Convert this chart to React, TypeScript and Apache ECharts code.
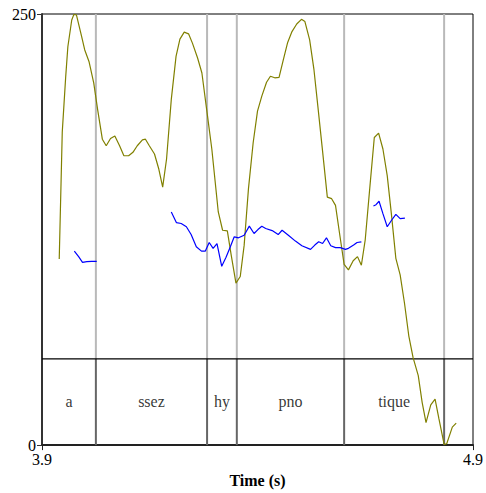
import React, { useEffect, useRef } from "react";
import * as echarts from "echarts";

// Intensity-like contour (olive)
const olive: [number, number][] = [
  [3.940, 107.9], [3.947, 181.5], [3.955, 213.7], [3.960, 231.0], [3.969, 246.5],
  [3.974, 249.8], [3.980, 249.4], [3.992, 236.9], [3.999, 229.3], [4.009, 222.5],
  [4.020, 210.1], [4.029, 194.7], [4.040, 177.4], [4.049, 173.6], [4.059, 177.8],
  [4.069, 179.3], [4.080, 173.6], [4.090, 167.8], [4.101, 167.8], [4.111, 169.8],
  [4.121, 173.6], [4.133, 177.0], [4.140, 177.4], [4.149, 173.6], [4.161, 168.8],
  [4.171, 160.1], [4.180, 149.6], [4.189, 165.9], [4.200, 200.5], [4.211, 225.4],
  [4.220, 235.4], [4.230, 239.5], [4.240, 238.5], [4.249, 233.1], [4.261, 224.5],
  [4.271, 215.8], [4.282, 194.7], [4.294, 171.7], [4.309, 135.2], [4.319, 124.6],
  [4.330, 124.2], [4.339, 110.2], [4.350, 93.9], [4.360, 97.8], [4.369, 115.8],
  [4.379, 148.6], [4.390, 175.5], [4.400, 193.7], [4.410, 202.4], [4.421, 210.4],
  [4.430, 213.9], [4.440, 213.0], [4.450, 213.3], [4.460, 223.5], [4.470, 233.5],
  [4.480, 239.8], [4.491, 244.2], [4.502, 246.9], [4.510, 245.6], [4.521, 235.0],
  [4.531, 217.7], [4.540, 196.6], [4.550, 172.8], [4.562, 143.8], [4.572, 142.9],
  [4.581, 139.0], [4.591, 121.7], [4.601, 104.8], [4.611, 101.6], [4.622, 106.9],
  [4.632, 109.3], [4.641, 104.3], [4.650, 119.2], [4.661, 150.5], [4.671, 178.4],
  [4.681, 180.9], [4.691, 171.7], [4.701, 156.3], [4.711, 133.2], [4.721, 108.3],
  [4.731, 98.7], [4.741, 82.4], [4.751, 63.4], [4.761, 50.7], [4.773, 40.3],
  [4.782, 24.8], [4.791, 13.0], [4.802, 23.3], [4.812, 26.7], [4.821, 15.2],
  [4.833, 0.4], [4.839, 0.8], [4.852, 10.4], [4.861, 12.7],
];

// Pitch contour (blue), three voiced stretches
const pitch1: [number, number][] = [
  [3.975, 112.5], [3.985, 109.3], [3.994, 106.0], [4.004, 106.4], [4.015, 106.5], [4.027, 106.6],
];
const pitch2: [number, number][] = [
  [4.200, 135.2], [4.212, 129.0], [4.223, 128.5], [4.235, 126.6], [4.246, 122.1],
  [4.258, 115.0], [4.270, 112.5], [4.279, 112.5], [4.288, 117.5], [4.297, 114.1],
  [4.306, 116.9], [4.317, 103.7], [4.327, 108.9], [4.337, 115.0], [4.346, 120.8],
  [4.356, 120.2], [4.369, 121.7], [4.381, 127.0], [4.392, 122.7], [4.401, 125.0],
  [4.410, 126.9], [4.419, 125.6], [4.434, 124.4], [4.448, 122.1], [4.457, 124.6],
  [4.473, 121.4], [4.488, 118.3], [4.503, 115.6], [4.523, 113.5], [4.533, 116.0],
  [4.542, 117.9], [4.551, 116.9], [4.560, 120.2], [4.570, 115.6], [4.581, 114.5],
  [4.592, 114.5], [4.604, 113.5], [4.611, 114.1], [4.623, 116.0], [4.631, 117.5],
  [4.641, 117.9],
];
const pitch3: [number, number][] = [
  [4.669, 138.7], [4.675, 139.4], [4.682, 141.4], [4.691, 134.2], [4.701, 126.6],
  [4.711, 130.4], [4.721, 133.8], [4.731, 131.3], [4.742, 131.6],
];

// Text grid tier
const boundaries = [4.025, 4.283, 4.352, 4.601, 4.833];
const tierLabels = ["a", "ssez", "hy", "pno", "tique", ""];
const xMin = 3.9;
const xMax = 4.9;
const yMin = 0;
const yMax = 250;
const tierTop = 50;
const xTicks = [3.9, 4.9];

const FONT = "'Liberation Serif', 'DejaVu Serif', serif";

export default function App() {
  const ref = useRef<HTMLDivElement>(null);
  useEffect(() => {
    if (!ref.current) return;
    const chart = echarts.init(ref.current, undefined, { renderer: "svg" });
    const edges = [xMin, ...boundaries, xMax];
    const labelData = tierLabels
      .map((l, i) => [(edges[i] + edges[i + 1]) / 2, tierTop / 2, l])
      .filter((d) => d[2] !== "");

    const series: any[] = [];
    boundaries.forEach((b) => {
      series.push({
        type: "line",
        data: [[b, tierTop], [b, yMax]],
        symbol: "none",
        silent: true,
        lineStyle: { color: "#b9b9b9", width: 2 },
        z: 1,
      });
      series.push({
        type: "line",
        data: [[b, yMin], [b, tierTop]],
        symbol: "none",
        silent: true,
        lineStyle: { color: "#666", width: 2 },
        z: 1,
      });
    });
    series.push({
      type: "line",
      data: [[xMin, tierTop], [xMax, tierTop]],
      symbol: "none",
      silent: true,
      lineStyle: { color: "#000", width: 1.2 },
      z: 2,
    });
    series.push({
      type: "scatter",
      data: labelData,
      symbolSize: 0,
      silent: true,
      label: {
        show: true,
        position: "inside",
        formatter: (p: any) => p.value[2],
        fontFamily: FONT,
        fontSize: 16,
        color: "#000",
      },
      z: 3,
    });
    series.push({
      type: "line",
      data: olive,
      symbol: "none",
      lineStyle: { color: "#808000", width: 1.2 },
      z: 5,
    });
    [pitch1, pitch2, pitch3].forEach((p) => {
      series.push({
        type: "line",
        data: p,
        symbol: "none",
        lineStyle: { color: "#0000ff", width: 1.2 },
        z: 6,
      });
    });

    chart.setOption({
      animation: false,
      grid: {
        left: 42,
        right: 11,
        top: 14,
        bottom: 45,
        show: true,
        borderColor: "#000",
        borderWidth: 1,
      },
      xAxis: {
        type: "value",
        min: xMin,
        max: xMax,
        name: "Time (s)",
        nameLocation: "middle",
        nameGap: 25,
        nameTextStyle: { fontFamily: FONT, fontSize: 16, fontWeight: "bold", color: "#000" },
        axisLine: { show: true, lineStyle: { color: "#222", width: 2 } },
        axisTick: { show: true, length: 5, customValues: xTicks, lineStyle: { color: "#222" } },
        axisLabel: {
          customValues: xTicks,
          margin: 6,
          fontFamily: FONT,
          fontSize: 16,
          color: "#000",
          formatter: (v: number) => v.toFixed(1),
        },
        splitLine: { show: false },
      },
      yAxis: {
        type: "value",
        min: yMin,
        max: yMax,
        interval: 250,
        axisLine: { show: true, lineStyle: { color: "#333", width: 2 } },
        axisTick: { show: true, length: 5, lineStyle: { color: "#333" } },
        axisLabel: { margin: 6, fontFamily: FONT, fontSize: 16, color: "#000" },
        splitLine: { show: false },
      },
      series,
    });
    return () => chart.dispose();
  }, []);
  return (
    <div
      ref={ref}
      style={{ position: "fixed", left: 0, top: 0, width: 486, height: 493, background: "#fff" }}
    />
  );
}
